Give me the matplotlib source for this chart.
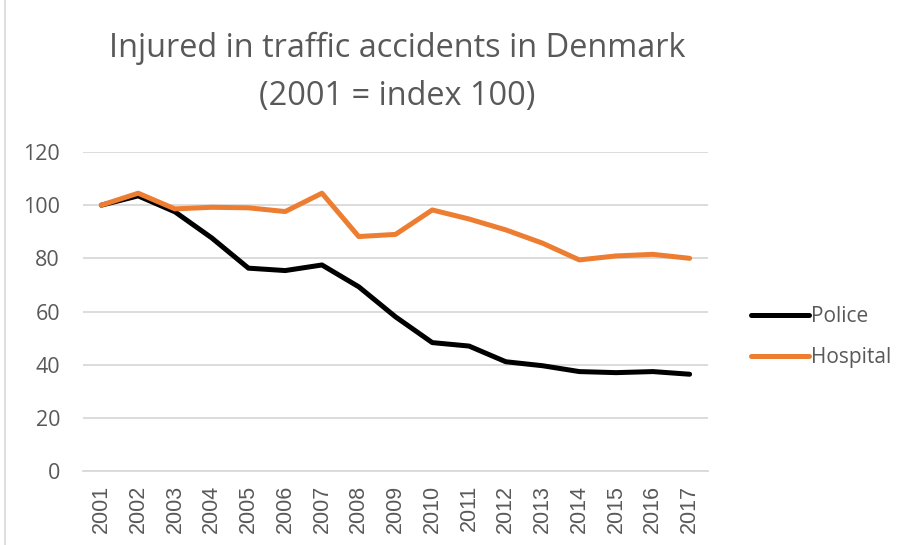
import matplotlib
matplotlib.use("Agg")
import matplotlib.pyplot as plt
from matplotlib.lines import Line2D

years = ["2001", "2002", "2003", "2004", "2005", "2006", "2007", "2008", "2009",
         "2010", "2011", "2012", "2013", "2014", "2015", "2016", "2017"]
police = [100, 103.5, 97.5, 87.7, 76.3, 75.4, 77.5, 69.3, 58.0,
          48.3, 47.0, 41.1, 39.6, 37.4, 37.0, 37.4, 36.4]
hospital = [100, 104.5, 98.6, 99.2, 99.0, 97.6, 104.5, 88.2, 89.0,
            98.2, 94.8, 90.7, 85.7, 79.4, 80.9, 81.5, 80.0]
yticks = [0, 20, 40, 60, 80, 100, 120]

plt.rcParams['font.family'] = ['Open Sans', 'DejaVu Sans']
txt = '#595959'

fig = plt.figure(figsize=(9.04, 5.45), dpi=100)
ax = fig.add_axes([83/904, 1 - 471/545, (708-83)/904, (471-152)/545])

x = list(range(len(years)))
ax.plot(x, police, color='black', lw=3.6, solid_capstyle='round', solid_joinstyle='round', label='Police', zorder=3)
ax.plot(x, hospital, color='#ED7D31', lw=3.6, solid_capstyle='round', solid_joinstyle='round', label='Hospital', zorder=3)

ax.set_xlim(-0.5, len(years) - 0.5)
ax.set_ylim(0, 120)
ax.set_yticks(yticks)
ax.set_yticklabels([str(v) for v in yticks], color=txt, fontsize=15.5)
ax.set_xticks(x)
ax.set_xticklabels(years, rotation=90, color=txt, fontsize=15.5, family=['Liberation Sans', 'DejaVu Sans'])
ax.tick_params(axis='both', length=0)
ax.tick_params(axis='y', pad=16.5)
ax.tick_params(axis='x', pad=10)
ax.grid(axis='y', color='#d9d9d9', lw=1.3)
ax.set_axisbelow(True)
for s in ['top', 'right', 'left']:
    ax.spines[s].set_visible(False)
ax.spines['bottom'].set_color('#d9d9d9')
ax.spines['bottom'].set_linewidth(1.3)

fig.text(397/904, 1 - 48/545, "Injured in traffic accidents in Denmark", ha='center', va='center',
         fontsize=23.4, color=txt)
fig.text(397/904, 1 - 96/545, "(2001 = index 100)", ha='center', va='center',
         fontsize=23.4, color=txt)

leg = ax.legend(loc='center left', bbox_to_anchor=(732/904, 1 - 337/545), bbox_transform=fig.transFigure,
                frameon=False, fontsize=15, handlelength=2.8, handletextpad=0.1, labelspacing=0.95)
for t in leg.get_texts():
    t.set_color(txt)

# chart-area border on the left edge
fig.add_artist(Line2D([5/904, 5/904], [0, 1], transform=fig.transFigure, color='#d9d9d9', lw=1.2))

fig.savefig("out.png", dpi=100, facecolor='white')
